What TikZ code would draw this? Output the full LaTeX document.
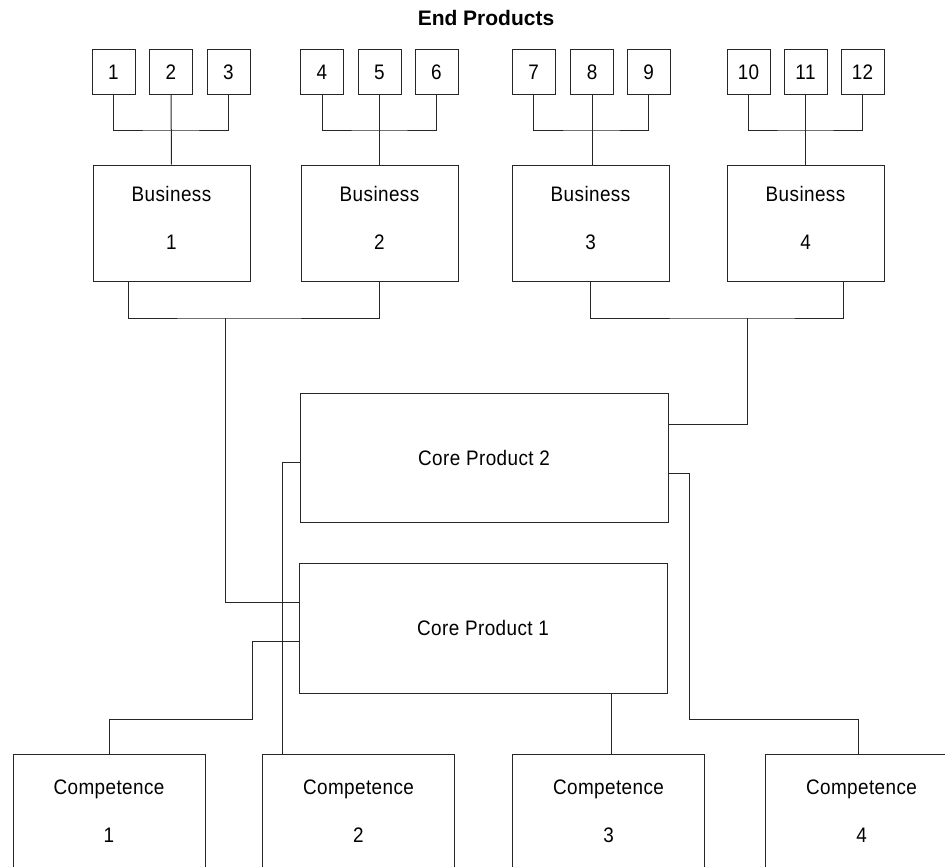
\documentclass[tikz,border=0pt]{standalone}
\usepackage{fontspec}
\setmainfont{Liberation Sans}
\newfontfamily\condfont[FakeStretch=0.9,LetterSpace=2]{Liberation Sans}
\begin{document}
\begin{tikzpicture}[x=1pt,y=-1pt,
  every node/.style={font=\condfont\fontsize{21}{48}\selectfont},
  ln/.style={draw=black!85,line width=1pt},
  sbox/.style={ln,rectangle,inner sep=0pt,minimum width=43pt,minimum height=44pt},
  bbox/.style={ln,rectangle,inner sep=0pt,minimum width=157pt,minimum height=116pt,align=center},
  cpbox/.style={ln,rectangle,inner sep=0pt,minimum width=368pt,minimum height=129pt},
  cbox/.style={ln,rectangle,inner sep=0pt,minimum width=192pt,minimum height=114pt,align=center},
  conn/.style={draw=black!85,line width=1pt}]
\clip (0,0) rectangle (945,867);
\useasboundingbox (0,0) rectangle (945,867);
\node[font=\bfseries\fontsize{21}{24}\selectfont] (title) at (486,18) {End Products};
% small boxes
\node[sbox] (p1) at (113.5,72) {1};
\node[sbox] (p2) at (171,72) {2};
\node[sbox] (p3) at (228.5,72) {3};
\node[sbox] (p4) at (322,72) {4};
\node[sbox] (p5) at (379.5,72) {5};
\node[sbox] (p6) at (436.5,72) {6};
\node[sbox] (p7) at (533.5,72) {7};
\node[sbox] (p8) at (592,72) {8};
\node[sbox] (p9) at (648.5,72) {9};
\node[sbox] (p10) at (748.5,72) {10};
\node[sbox] (p11) at (805.5,72) {11};
\node[sbox] (p12) at (862.5,72) {12};
% business boxes
\node[bbox] (B1) at (171.5,223) {Business\\1\\[-38pt]};
\node[bbox] (B2) at (379.5,223) {Business\\2\\[-38pt]};
\node[bbox] (B3) at (590.5,223) {Business\\3\\[-38pt]};
\node[bbox] (B4) at (805.5,223) {Business\\4\\[-38pt]};
% core products
\node[cpbox] (CP2) at (484,457.5) {Core Product 2};
\node[cpbox,minimum height=130pt] (CP1) at (483,628) {Core Product 1};
% competences
\node[cbox] (C1) at (109,811) {Competence\\1};
\node[cbox] (C2) at (358.5,811) {Competence\\2};
\node[cbox] (C3) at (608.5,811) {Competence\\3};
\node[cbox] (C4) at (861.5,811) {Competence\\4};
% coordinates
\coordinate (g1) at (171,130);
\coordinate (g2) at (379.5,130);
\coordinate (g3) at (592,130);
\coordinate (g4) at (805.5,130);
\coordinate (j12) at (225,318);
\coordinate (j34) at (747,318);
\coordinate (k1) at (252,719);
\coordinate (k4) at (689,719);
\coordinate (c3t) at ([xshift=99.5pt]C3.north west);
% end product connectors
\draw[conn] (p1.south) |- (g1) -| (p3.south);
\draw[conn] (p2.south) -- (B1.north);
\draw[conn] (p4.south) |- (g2) -| (p6.south);
\draw[conn] (p5.south) -- (B2.north);
\draw[conn] (p7.south) |- (g3) -| (p9.south);
\draw[conn] (p8.south) -- (p8.south |- B3.north);
\draw[conn] (p10.south) |- (g4) -| (p12.south);
\draw[conn] (p11.south) -- (B4.north);
% business connectors
\draw[conn] ([xshift=36pt]B1.south west) |- (j12) -| (B2.south);
\draw[conn] (j12) |- ([yshift=-40pt]CP1.north west);
\draw[conn] (B3.south) |- (j34) -| ([xshift=-41pt]B4.south east);
\draw[conn] (j34) |- ([yshift=-32pt]CP2.north east);
% competence connectors
\draw[conn] ([yshift=-79pt]CP1.north west) -| (k1) -| (C1.north);
\draw[conn] ([yshift=-70pt]CP2.north west) -| ([xshift=20pt]C2.north west);
\draw[conn] (c3t |- CP1.south) -- (c3t);
\draw[conn] ([yshift=-81pt]CP2.north east) -| (k4) -| ([xshift=93pt]C4.north west);
\end{tikzpicture}
\end{document}
